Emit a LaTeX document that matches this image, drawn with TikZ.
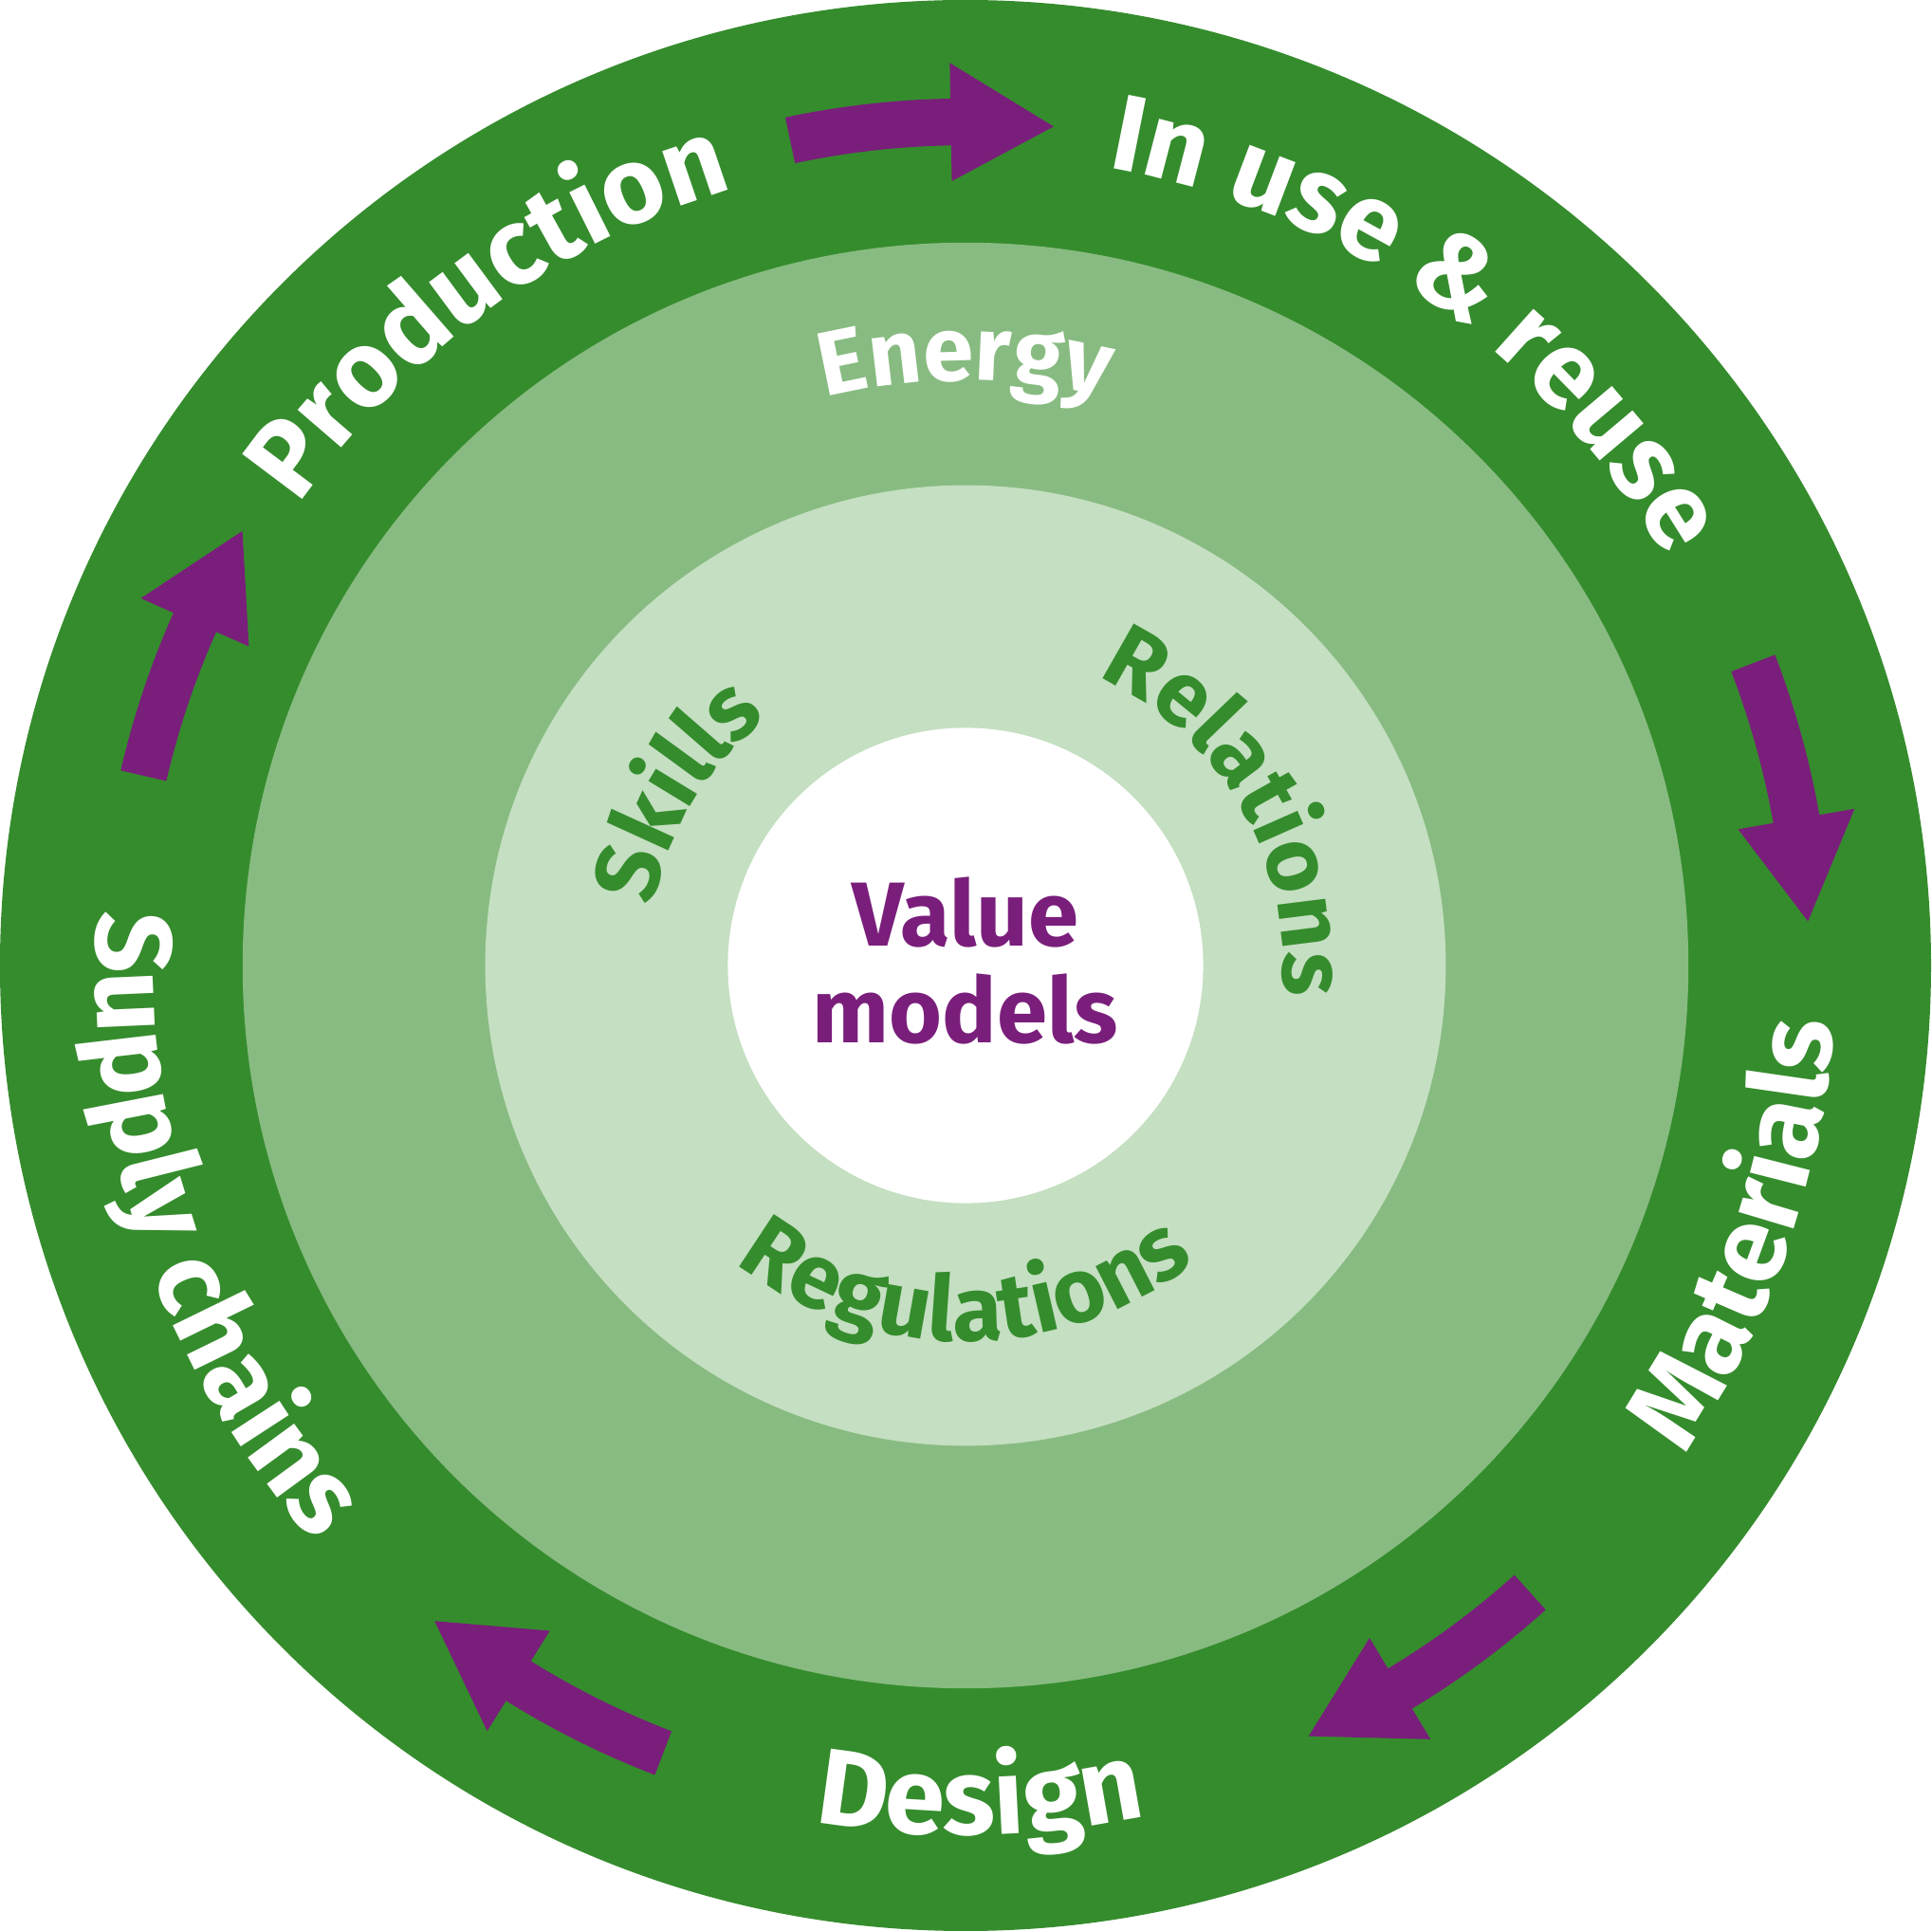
\documentclass[tikz,border=0pt]{standalone}
\usepackage{fontspec}
\setmainfont{Fira Sans}
\usetikzlibrary{decorations.text}

\definecolor{darkgreen}{HTML}{358C2D}
\definecolor{midgreen}{HTML}{88BB81}
\definecolor{palegreen}{HTML}{C4DFC1}
\definecolor{plum}{HTML}{7A1E7B}

\newcommand{\outerfont}{\color{white}\bfseries\fontsize{25}{25}\selectfont}
\newcommand{\middlefont}{\color{white}\bfseries\fontsize{21}{21}\selectfont}
\newcommand{\innerfont}{\color{darkgreen}\bfseries\fontsize{21}{21}\selectfont}

\begin{document}
\begin{tikzpicture}

    \useasboundingbox (-7.84,-7.84) rectangle (7.84,7.84);

    % Define the styles
    \tikzstyle{ring} = [circle, inner sep=0pt, outer sep=0pt]
    \tikzstyle{arrow} = [fill=plum]
    \tikzstyle{ringtext} = [decorate, decoration={text along path, text align=center}]

    % Rings
    \node (outer) [ring, fill=darkgreen, minimum size=15.68cm] at (0,0) {};
    \node (middle) [ring, fill=midgreen, minimum size=11.74cm] at (0,0) {};
    \node (inner) [ring, fill=palegreen, minimum size=7.8cm] at (0,0) {};
    \node (core) [ring, fill=white, minimum size=3.86cm] at (0,0) {};
    \node (value) [align=center, text=plum, font=\bfseries\fontsize{21}{22.2}\selectfont] at (0,0.04) {Value\\models};

    % Outer ring texts
    \path [ringtext, decoration={text={|\outerfont|Production}}] (186:6.58) arc[start angle=186, end angle=66, radius=6.58];
    \path [ringtext, decoration={text={|\outerfont|In use {\&} reuse}}] (115:6.58) arc[start angle=115, end angle=-5, radius=6.58];
    \path [ringtext, decoration={text={|\outerfont|Materials}}] (-79:7.06) arc[start angle=-79, end angle=41, radius=7.06];
    \path [ringtext, decoration={text={|\outerfont|Design}}] (-149:7.06) arc[start angle=-149, end angle=-29, radius=7.06];
    \path [ringtext, decoration={text={|\outerfont|Supply chains}}] (139:7.06) arc[start angle=139, end angle=259, radius=7.06];

    % Middle and inner ring texts
    \path [ringtext, decoration={text={|\middlefont|Energy}}] (150:4.75) arc[start angle=150, end angle=30, radius=4.75];
    \path [ringtext, decoration={text={|\innerfont|Skills}}] (209:2.58) arc[start angle=209, end angle=89, radius=2.58];
    \path [ringtext, decoration={text={|\innerfont|Relations}}] (90:2.58) arc[start angle=90, end angle=-30, radius=2.58];
    \path [ringtext, decoration={text={|\innerfont|Regulations}}] (-150:3.05) arc[start angle=-150, end angle=-30, radius=3.05];

    % Arrows (tail angle / tip angle, clockwise)
    \foreach \tail/\tip in {102/84, 21/3, -48/-66, -111/-129, 167/149} {
        \pgfmathsetmacro{\base}{\tip+7}
        \fill [arrow] (\tail:6.66) arc[start angle=\tail, end angle=\base, radius=6.66]
            -- (\base:6.37) -- (\tip:6.85) -- (\base:7.33) -- (\base:7.04)
            arc[start angle=\base, end angle=\tail, radius=7.04] -- cycle;
    }

\end{tikzpicture}
\end{document}
